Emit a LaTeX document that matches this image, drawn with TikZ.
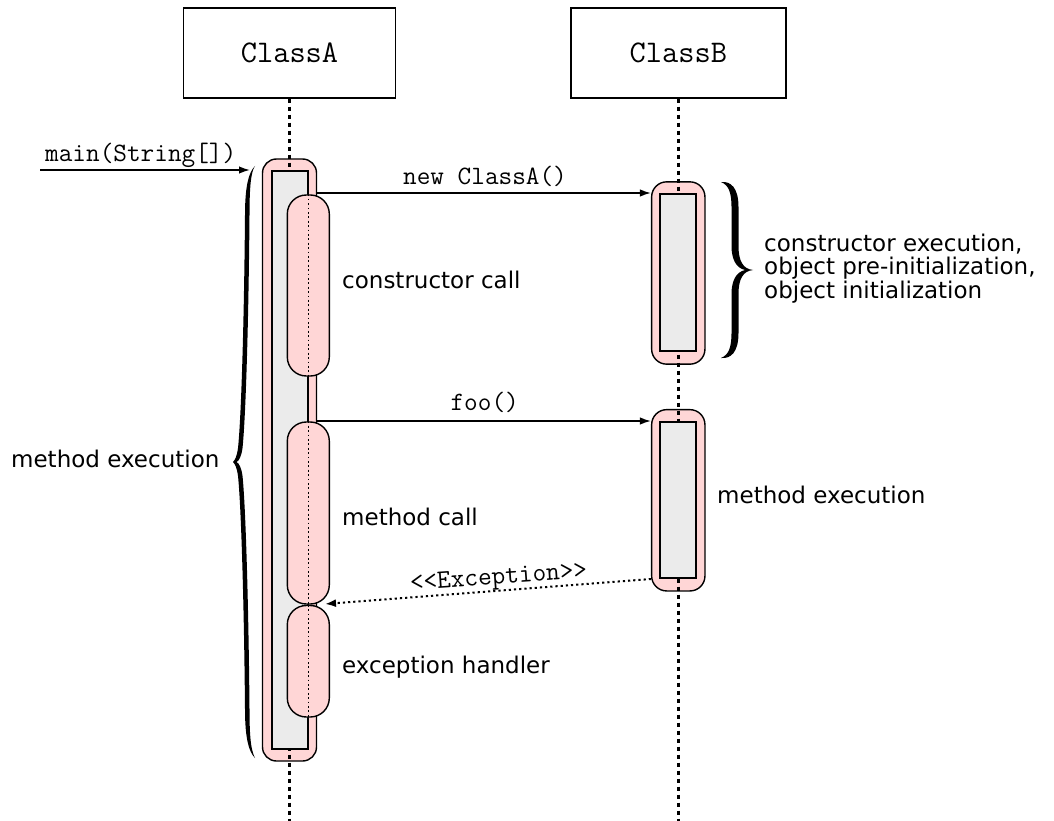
\documentclass[tikz,border=0pt]{standalone}
\usepackage{fontspec}
\setmainfont{DejaVu Sans}
\usetikzlibrary{arrows.meta}
\definecolor{actpink}{RGB}{255,214,214}
\definecolor{actgray}{RGB}{235,235,235}
\begin{document}
\begin{tikzpicture}[x=1pt,y=-1pt,
  classbox/.style={draw, line width=1.4pt, minimum height=90pt, inner sep=0pt,
    font=\ttfamily\fontsize{31.5}{33}\selectfont},
  actout/.style={draw, line width=1.4pt, fill=actpink, inner sep=0pt, rounded corners=15pt},
  actin/.style={draw, line width=2pt, fill=actgray, inner sep=0pt},
  nested/.style={draw, line width=1.4pt, fill=actpink, inner sep=0pt, minimum width=42pt, rounded corners=19pt},
  lifeline/.style={line width=2.5pt, dash pattern=on 4.5pt off 3.5pt},
  nestdot/.style={line width=1.6pt, dash pattern=on 1.8pt off 2.6pt},
  msg/.style={line width=1.6pt, -{Latex[length=11pt,width=7.5pt]}},
  excmsg/.style={line width=2pt, dash pattern=on 2.2pt off 3pt, -{Latex[length=11pt,width=8pt]}},
  msglbl/.style={font=\ttfamily\fontsize{26.5}{28}\selectfont, inner sep=0pt, anchor=base},
  lbl/.style={font=\fontsize{23}{24}\selectfont, inner sep=0pt, anchor=base west}
]
\fill[white] (0,0) rectangle (1054,821);
\useasboundingbox (0,0) rectangle (1054,821);
\coordinate (bottom) at (0,821);

% class boxes
\node[classbox, minimum width=212pt] (boxA) at (289.5,53) {ClassA};
\node[classbox, minimum width=215pt] (boxB) at (678.3,53) {ClassB};

% outer activations
\node[actout, minimum width=54pt, minimum height=602pt, rounded corners=14pt] (actA) at (289.5,460) {};
\node[actout, minimum width=53.3pt, minimum height=182.3pt] (actB1) at (678.3,273) {};
\node[actout, minimum width=53.3pt, minimum height=181.3pt] (actB2) at (678.3,500.3) {};

% lifelines
\draw[lifeline] (boxA.south) -- (boxA.south |- bottom);
\draw[lifeline] (boxB.south) -- (boxB.south |- bottom);

% gray execution bars
\node[actin, minimum width=36pt, minimum height=578pt] (gA) at (289.5,460) {};
\node[actin, minimum width=36pt, minimum height=157pt] (gB1) at (678.3,272.5) {};
\node[actin, minimum width=36pt, minimum height=156pt] (gB2) at (678.3,500) {};

% nested activations
\node[nested, minimum height=181pt] (cc) at (308.3,285.5) {};
\node[nested, minimum height=182pt] (mc) at (308.3,513) {};
\node[nested, minimum height=111.5pt] (eh) at (308.3,661.25) {};
\draw[nestdot] (cc.north) -- (cc.south);
\draw[nestdot] (mc.north) -- (mc.south);
\draw[nestdot] (eh.north) -- (eh.south);

% messages
\coordinate (mstart) at (40,170);
\coordinate (mend) at (250,170);
\draw[msg] (mstart) -- (mend);
\node[msglbl, anchor=base west] (lmain) at (45,162) {main(String[])};

\draw[msg] (actA.east |- gB1.north) -- (actB1.west |- gB1.north);
\node[msglbl] (lnew) at (485,185) {new ClassA()};

\draw[msg] (actA.east |- gB2.north) -- (actB2.west |- gB2.north);
\node[msglbl] (lfoo) at (484.7,410) {foo()};

\coordinate (exctip) at (325,604);
\draw[excmsg] (actB2.west |- gB2.south) -- (exctip);
\node[msglbl, rotate=4] (lexc) at (499,584) {<{}<Exception>{}>};

% labels
\node[lbl] (lcc) at (342,288.5) {constructor call};
\node[lbl] (lmc) at (342,525) {method call};
\node[lbl] (leh) at (342,673) {exception handler};
\node[lbl] (lmeB) at (717,503) {method execution};
\node[lbl] (lmeA) at (11,467) {method execution};
\node[lbl] (lce1) at (764,251) {constructor execution,};
\node[lbl] (lce2) at (764,274.5) {object pre-initialization,};
\node[lbl] (lce3) at (764,298) {object initialization};

% right brace
\fill (721,182) .. controls (731,181) and (738.5,188) .. (738.5,207)
  -- (738.5,246) .. controls (738.5,261) and (743,269) .. (753,270)
  .. controls (743,271) and (738.5,279) .. (738.5,294)
  -- (738.5,333) .. controls (738.5,352) and (731,359) .. (721,358)
  .. controls (728,355) and (731.5,349) .. (731.5,333)
  -- (731.5,294) .. controls (731.5,281) and (736,272) .. (745,270)
  .. controls (736,268) and (731.5,259) .. (731.5,246)
  -- (731.5,207) .. controls (731.5,191) and (728,185) .. (721,182) -- cycle;

% left brace
\fill (255,166) .. controls (249,172) and (245,185) .. (245,215)
  .. controls (244,330) and (241,420) .. (238,448)
  .. controls (237,456) and (235,460) .. (233,462)
  .. controls (235,464) and (237,468) .. (238,476)
  .. controls (241,504) and (244,600) .. (245,709)
  .. controls (245,739) and (249,752) .. (255,758)
  .. controls (251,750) and (249.5,738) .. (249.5,709)
  .. controls (248.5,600) and (245.5,504) .. (242.5,476)
  .. controls (241.5,468) and (239,463) .. (236.5,462)
  .. controls (239,461) and (241.5,456) .. (242.5,448)
  .. controls (245.5,420) and (248.5,330) .. (249.5,215)
  .. controls (249.5,186) and (251,172) .. (255,166) -- cycle;
\end{tikzpicture}
\end{document}
